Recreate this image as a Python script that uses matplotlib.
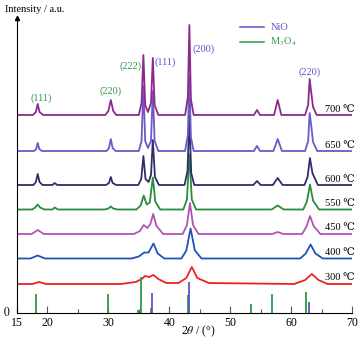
import numpy as np
import matplotlib
matplotlib.use('Agg')
import matplotlib.pyplot as plt

plt.rcParams['font.family'] = ['Liberation Serif', 'DejaVu Serif']
plt.rcParams['mathtext.fontset'] = 'stix'

# temperatures, offsets of each trace (baseline) and colours
temps = ['300', '400', '450', '550', '600', '650', '700']
baselines = [29, 54.5, 79, 103.5, 128, 162, 198]
colors = ['#ee2222', '#2252b8', '#b452b4', '#2a8c3c', '#2e2e6c', '#6a5ac8', '#8c2a8c']

x300 = [15, 17.5, 18.6, 19.8, 32.0, 34.5, 35.5, 36.0, 36.7, 37.4, 38.2, 39.5, 41.5, 42.8, 43.7, 44.6, 46.5, 60.5, 62.3, 63.4, 64.5, 66.0, 70]
y300 = [0, 0, 2, 0, 0, 2, 5, 8, 7, 9, 5, 1, 1, 6, 17, 6, 1, 0, 4, 10, 4, 0, 0]

x400 = [15, 17.2, 18.4, 19.6, 33.8, 35.0, 35.9, 36.6, 37.4, 38.1, 39.2, 42.0, 42.8, 43.5, 44.2, 45.3, 61.5, 62.4, 63.2, 64.0, 65.2, 70]
y400 = [0, 0, 3, 0, 0, 2, 6, 6, 15, 5, 0, 0, 8, 30, 8, 0, 0, 5, 14, 5, 0, 0]

x450 = [15, 17.4, 18.4, 19.4, 34.2, 35.2, 35.8, 36.4, 36.9, 37.35, 37.9, 39.0, 42.2, 42.9, 43.4, 43.9, 44.8, 56.9, 57.8, 58.7, 61.8, 62.5, 63.1, 63.7, 64.8, 70]
y450 = [0, 0, 4, 0, 0, 3, 9, 6, 10, 20, 8, 0, 0, 9, 31, 9, 0, 0, 2, 0, 0, 7, 18, 8, 0, 0]

x550 = [15, 17.5, 18.0, 18.4, 18.8, 19.5, 20.8, 21.2, 21.7, 29.4, 30.0, 30.4, 30.8, 31.5, 34.6, 35.3, 35.8, 36.3, 36.8, 37.3, 37.7, 38.5, 42.3, 42.9, 43.3, 43.7, 44.4, 56.8, 57.8, 58.8, 62.0, 62.6, 63.1, 63.6, 64.6, 70]
y550 = [0, 0, 2, 5, 2, 0, 0, 2, 0, 0, 1, 3, 1, 0, 0, 4, 14, 5, 7, 32, 8, 0, 0, 10, 55, 10, 0, 0, 4, 0, 0, 8, 25, 9, 0, 0]

x600 = [15, 17.7, 18.1, 18.4, 18.7, 19.2, 20.8, 21.2, 21.6, 29.6, 30.1, 30.4, 30.7, 31.3, 34.9, 35.4, 35.75, 36.1, 36.6, 37.0, 37.3, 37.65, 38.3, 42.5, 43.0, 43.3, 43.6, 44.1, 53.8, 54.4, 55.0, 57.0, 57.8, 58.6, 62.2, 62.7, 63.1, 63.5, 64.4, 70]
y600 = [0, 0, 3, 11, 3, 0, 0, 2, 0, 0, 2, 8, 2, 0, 0, 6, 29, 6, 3, 10, 45, 8, 0, 0, 14, 70, 12, 0, 0, 4, 0, 0, 7, 0, 0, 8, 27, 12, 0, 0]

x650 = [15, 17.8, 18.15, 18.4, 18.65, 19.1, 29.7, 30.1, 30.4, 30.7, 31.2, 35.0, 35.45, 35.75, 36.05, 36.5, 37.0, 37.3, 37.6, 38.2, 42.6, 43.05, 43.3, 43.55, 44.0, 53.9, 54.4, 54.9, 57.1, 57.8, 58.5, 62.3, 62.8, 63.05, 63.3, 63.6, 64.3, 70]
y650 = [0, 0, 2, 8, 2, 0, 0, 3, 12, 3, 0, 0, 10, 65, 10, 3, 10, 60, 10, 0, 0, 16, 75, 14, 0, 0, 5, 0, 0, 12, 0, 0, 10, 38, 26, 9, 0, 0]

x700 = [15, 17.6, 18.1, 18.4, 18.7, 19.3, 29.5, 30.0, 30.4, 30.8, 31.3, 35.0, 35.45, 35.75, 36.05, 36.5, 37.0, 37.3, 37.6, 38.2, 42.6, 43.05, 43.3, 43.55, 44.0, 53.9, 54.4, 54.9, 57.2, 57.8, 58.4, 62.3, 62.8, 63.05, 63.3, 63.6, 64.2, 70]
y700 = [0, 0, 3, 11, 3, 0, 0, 4, 15, 4, 0, 0, 12, 60, 10, 3, 12, 57, 10, 0, 0, 18, 90, 16, 0, 0, 5, 0, 0, 15, 0, 0, 10, 36, 23, 8, 0, 0]

traces_x = [x300, x400, x450, x550, x600, x650, x700]
traces_y = [y300, y400, y450, y550, y600, y650, y700]

# standard card sticks
m3o4_pos = [18.1, 29.9, 34.9, 35.3, 36.95, 43.0, 53.4, 56.8, 62.4]
m3o4_h = [18.7, 18.7, 3, 35.7, 5, 18, 9, 18.7, 21]
nio_pos = [37.2, 43.3, 63.0]
nio_h = [20, 31, 10.7]

green = '#2f9a48'
blue = '#5e52c4'

fig = plt.figure(figsize=(3.63, 3.42), dpi=100)
ax = fig.add_axes([17 / 363, 29 / 342, 335 / 363, 295 / 342])

for xs, ys, b, c, t in zip(traces_x, traces_y, baselines, colors, temps):
    ax.plot(xs, np.array(ys) + b, color=c, lw=1.3)
    ax.text(65.6, b + 6, t + ' ℃', fontsize=7.5, va='center', ha='left')

ax.vlines(m3o4_pos, 0, m3o4_h, color=green, lw=1.3)
ax.vlines(nio_pos, 0, nio_h, color=blue, lw=1.3)

# peak labels
ax.text(18.9, 215, '(111)', color=green, fontsize=7.5, ha='center', va='center')
ax.text(30.4, 222, '(220)', color=green, fontsize=7.5, ha='center', va='center')
ax.text(33.6, 247, '(222)', color=green, fontsize=7.5, ha='center', va='center')
ax.text(39.3, 251, '(111)', color=blue, fontsize=7.5, ha='center', va='center')
ax.text(45.7, 264, '(200)', color=blue, fontsize=7.5, ha='center', va='center')
ax.text(63.1, 241, '(220)', color=blue, fontsize=7.5, ha='center', va='center')

# legend drawn by hand
ax.plot([51.6, 55.5], [286, 286], color=blue, lw=1.1)
ax.plot([51.6, 55.5], [271, 271], color=green, lw=1.1)
ax.text(56.6, 286, 'NiO', color=blue, fontsize=7.5, va='center')
ax.text(56.6, 271, 'M$_3$O$_4$', color=green, fontsize=7.5, va='center')

ax.set_xlim(15, 70)
ax.set_ylim(0, 295)
ax.set_xticks([15, 20, 30, 40, 50, 60, 70])
ax.set_xticks([25, 35, 45, 55, 65], minor=True)
ax.set_yticks([])
ax.tick_params(axis='x', direction='in', length=5, width=0.8, color='#555555',
               labelsize=8.5, pad=3)
ax.tick_params(axis='x', which='minor', direction='in', length=3, width=0.8, color='#555555')
ax.spines['top'].set_visible(False)
ax.spines['right'].set_visible(False)
ax.plot(15, 295, marker='^', color='black', ms=3, clip_on=False)
ax.set_xlabel(r'2$\it{\theta}$ / (°)', fontsize=8.5, va='center')
ax.xaxis.set_label_coords(0.54, -0.062)
fig.text(5 / 363, 1 - 10 / 342, 'Intensity / a.u.', fontsize=7.5, va='center')
fig.text(3 / 363, 1 - 312 / 342, '$\\it{0}$', fontsize=8.5, va='center')

fig.savefig('out.png', dpi=100)
